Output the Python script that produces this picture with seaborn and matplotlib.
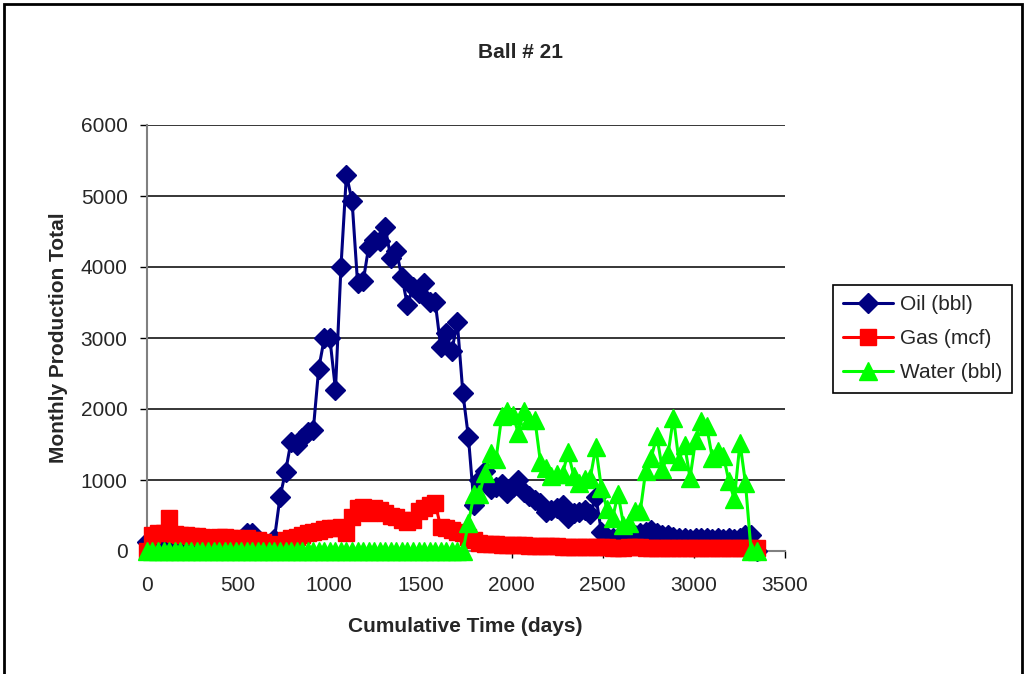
import matplotlib
matplotlib.use("Agg")
import matplotlib.pyplot as plt
import seaborn as sns
import pandas as pd
from matplotlib.patches import Rectangle

# ---- data ----
days = [0, 30, 61, 91, 122, 152, 182, 213, 243, 274, 304, 334, 365, 395, 426, 456,
        486, 517, 547, 578, 608, 638, 669, 699, 730, 760, 790, 821, 851, 882, 912,
        942, 973, 1003, 1034, 1064, 1094, 1125, 1155, 1186, 1216, 1246, 1277, 1307,
        1338, 1368, 1398, 1429, 1459, 1490, 1520, 1550, 1581, 1611, 1642, 1672, 1702,
        1733, 1763, 1794, 1824, 1854, 1885, 1915, 1946, 1976, 2006, 2037, 2067, 2098,
        2128, 2158, 2189, 2219, 2250, 2280, 2310, 2341, 2371, 2402, 2432, 2462, 2493,
        2523, 2554, 2584, 2614, 2645, 2675, 2706, 2736, 2766, 2797, 2827, 2858, 2888,
        2918, 2949, 2979, 3010, 3040, 3070, 3101, 3131, 3162, 3192, 3222, 3253, 3283,
        3314, 3344]

oil = [120, 180, 150, 150, 150, 140, 140, 130, 130, 130, 130, 120, 120, 120, 120, 120,
       120, 130, 250, 260, 130, 80, 60, 170, 765, 1117, 1540, 1490, 1590, 1680, 1700,
       2570, 3000, 3000, 2270, 4000, 5300, 4930, 3780, 3800, 4280, 4380, 4370, 4560,
       4120, 4230, 3860, 3460, 3720, 3630, 3770, 3510, 3510, 2880, 3070, 2810, 3230,
       2220, 1610, 650, 1000, 1120, 880, 900, 950, 810, 900, 1000, 830, 775,
       720, 670, 555, 580, 600, 650, 460, 530, 555, 580, 520, 765, 270,
       200, 180, 190, 170, 200, 230, 250, 270, 290, 260, 230, 220, 200,
       190, 180, 170, 190, 180, 190, 170, 180, 170, 180, 170, 190, 220,
       220, 0]

gas = [0, 220, 250, 260, 460, 240, 230, 220, 210, 210, 200, 190, 190, 200, 200, 190,
       180, 170, 180, 160, 150, 120, 100, 60, 40, 150, 180, 200, 220, 250, 270,
       280, 310, 320, 330, 340, 260, 480, 600, 620, 540, 600, 580, 530,
       500, 480, 430, 410, 440, 560, 600, 650, 670, 340, 320, 300, 270,
       250, 200, 150, 110, 100, 100, 95, 90, 90, 85, 85, 80, 75,
       75, 70, 70, 65, 65, 60, 60, 60, 55, 55, 55, 50, 50,
       50, 45, 45, 45, 50, 55, 50, 45, 45, 45, 40, 40, 40,
       40, 40, 40, 40, 40, 40, 40, 40, 40, 40, 40, 40, 40,
       40, 40]

water = [0] * 58 + [390, 800, 800, 1100, 1385, 1300, 1900, 1970, 1920, 1665, 1975,
                    1840, 1850, 1260, 1170, 1060, 1085, 1090, 1390, 1060, 955, 1015,
                    1035, 1460, 885, 595, 460, 805, 370, 390, 565, 560, 1130, 1315,
                    1620, 1150, 1360, 1880, 1270, 1500, 1030, 1570, 1830, 1760, 1315,
                    1410, 1340, 985, 730, 1525, 960, 0, 0]

series_names = ["Oil (bbl)", "Gas (mcf)", "Water (bbl)"]
series_colors = ["#000080", "#FF0000", "#00FF00"]
series_markers = ["D", "s", "^"]
series_msize = [10.5, 11.5, 13]

x_ticks = [0, 500, 1000, 1500, 2000, 2500, 3000, 3500]
y_ticks = [0, 1000, 2000, 3000, 4000, 5000, 6000]

# ---- styling ----
sns.set_style("white")
plt.rcParams["font.family"] = ["Liberation Sans", "DejaVu Sans"]

fig = plt.figure(figsize=(10.26, 6.74), dpi=100)
fig.patch.set_facecolor("white")
ax = fig.add_axes([147 / 1026, 1 - 551 / 674, (785 - 147) / 1026, (551 - 125) / 674])

df = pd.DataFrame({"days": days, "Oil (bbl)": oil, "Gas (mcf)": gas, "Water (bbl)": water})

for name, col, mk, ms in zip(series_names, series_colors, series_markers, series_msize):
    sns.lineplot(data=df, x="days", y=name, ax=ax, color=col, marker=mk,
                 markersize=ms, markeredgecolor=col, markeredgewidth=1,
                 linewidth=2.2, label=name, clip_on=False, zorder=3)

ax.set_xlim(0, 3500)
ax.set_ylim(0, 6000)
ax.set_xticks(x_ticks)
ax.set_yticks(y_ticks)
ax.set_xticklabels([str(v) for v in x_ticks], fontsize=15)
ax.set_yticklabels([str(v) for v in y_ticks], fontsize=15)

ax.yaxis.grid(True, color="black", linewidth=1.1)
ax.xaxis.grid(False)
ax.set_axisbelow(True)

for s in ["top", "right"]:
    ax.spines[s].set_visible(False)
for s in ["left", "bottom"]:
    ax.spines[s].set_color("#808080")
    ax.spines[s].set_linewidth(1.5)

ax.tick_params(axis="x", direction="out", length=5, width=1, color="black", pad=13)
ax.tick_params(axis="y", direction="out", length=5, width=1, color="black", pad=9)
ax.xaxis.set_ticks_position("bottom")
ax.yaxis.set_ticks_position("left")

ax.set_xlabel("Cumulative Time (days)", fontsize=15, fontweight="bold")
ax.set_ylabel("Monthly Production Total", fontsize=15, fontweight="bold")
ax.xaxis.set_label_coords((465 - 147) / 638, (551 - 617) / 426)
ax.yaxis.set_label_coords((68 - 147) / 638, 0.5)

fig.text(520 / 1026, 1 - 52 / 674, "Ball # 21", fontsize=15, fontweight="bold",
         ha="center", va="center")

leg = ax.legend(loc="upper left", bbox_to_anchor=(833 / 1026, 1 - 285 / 674),
                bbox_transform=fig.transFigure, fontsize=15, frameon=True,
                fancybox=False, framealpha=1, edgecolor="black", handlelength=2.4,
                borderpad=0.5, labelspacing=0.72, handletextpad=0.3, borderaxespad=0)
leg.get_frame().set_linewidth(1.2)

# outer chart border
fig.patches.append(Rectangle((4 / 1026, -0.05), 1 - 8 / 1026, 1.05 - 4 / 674,
                             transform=fig.transFigure, fill=False,
                             edgecolor="black", linewidth=2))

fig.savefig("out.png", dpi=100)
